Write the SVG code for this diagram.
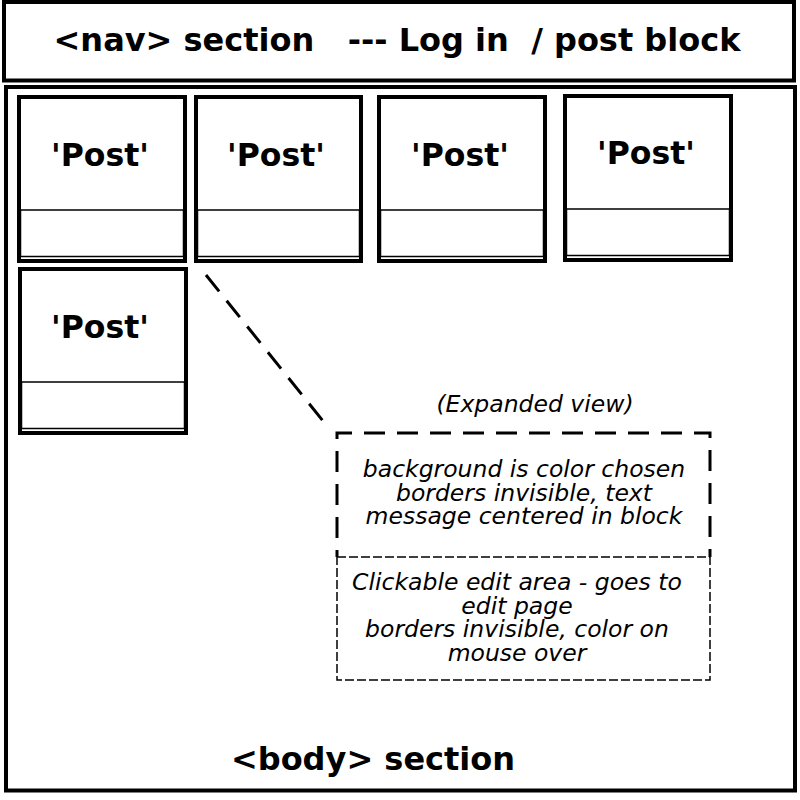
<svg xmlns="http://www.w3.org/2000/svg" width="800" height="800" viewBox="0 0 800 800">
<style>
.frame{fill:none;stroke:#000;stroke-width:4}
.post{fill:#fff;stroke:#000;stroke-width:4}
.sub{fill:none;stroke:#000;stroke-width:1.5}
.title{font-family:"DejaVu Sans",sans-serif;font-weight:bold;font-size:32px;fill:#000;text-anchor:middle}
.ptxt{font-family:"DejaVu Sans",sans-serif;font-weight:bold;font-size:31.5px;fill:#000;text-anchor:middle}
.note{font-family:"DejaVu Sans",sans-serif;font-style:oblique;font-size:23.5px;fill:#000;text-anchor:middle}
.thick{fill:none;stroke:#000;stroke-width:3;stroke-dasharray:21 12}
.thin{fill:none;stroke:#000;stroke-width:1.5;stroke-dasharray:9 3}
</style>
<rect width="800" height="800" fill="#fff"/>
<g id="nav">
<rect class="frame" x="4" y="2" width="790" height="78.5"/>
<text class="title" x="397" y="51" xml:space="preserve">&lt;nav&gt; section   --- Log in  / post block</text>
</g>
<g id="body">
<rect class="frame" x="6" y="87" width="789" height="703.5"/>
<text class="title" x="373" y="770">&lt;body&gt; section</text>
</g>
<g id="post1">
<rect class="post" x="19" y="97" width="166" height="164"/>
<rect class="sub" x="20.5" y="210" width="163" height="46.5"/>
<text class="ptxt" x="100" y="166">'Post'</text>
</g>
<g id="post2">
<rect class="post" x="196" y="97" width="165" height="164"/>
<rect class="sub" x="197.5" y="210" width="162" height="46.5"/>
<text class="ptxt" x="276" y="166">'Post'</text>
</g>
<g id="post3">
<rect class="post" x="379" y="97" width="166" height="164"/>
<rect class="sub" x="380.5" y="210" width="163" height="46.5"/>
<text class="ptxt" x="460" y="166">'Post'</text>
</g>
<g id="post4">
<rect class="post" x="565" y="96" width="166" height="164"/>
<rect class="sub" x="566.5" y="209" width="163" height="46.5"/>
<text class="ptxt" x="646" y="164">'Post'</text>
</g>
<g id="post5">
<rect class="post" x="20" y="269" width="166" height="164"/>
<rect class="sub" x="21.5" y="382" width="163" height="46.5"/>
<text class="ptxt" x="100" y="338">'Post'</text>
</g>
<g id="connectors">
<line class="thick" x1="206" y1="275" x2="327" y2="426"/>
</g>
<g id="expanded">
<text class="note" x="535" y="412">(Expanded view)</text>
<path class="thick" d="M337,557 V433 H710 V557" style="stroke-dashoffset:14"/>
<rect class="thin" x="337" y="557" width="373" height="123"/>
<text class="note" x="524" y="477">background is color chosen</text>
<text class="note" x="524" y="500.5">borders invisible, text</text>
<text class="note" x="524" y="524">message centered in block</text>
<text class="note" x="517" y="590">Clickable edit area - goes to</text>
<text class="note" x="517" y="613.5">edit page</text>
<text class="note" x="517" y="637">borders invisible, color on</text>
<text class="note" x="517" y="660.5">mouse over</text>
</g>
</svg>
